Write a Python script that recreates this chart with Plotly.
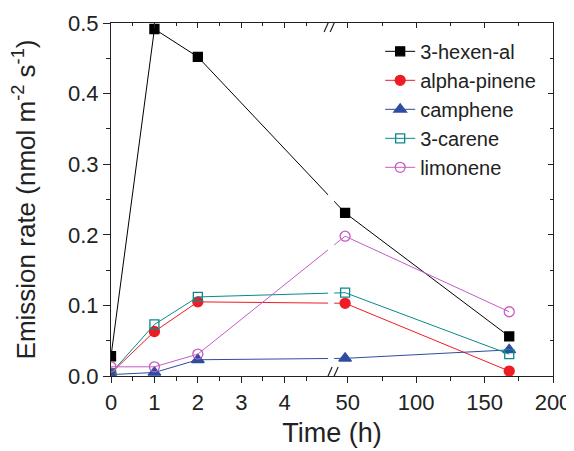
import plotly.graph_objects as go

# ---- data ----
time_h = [0, 1, 2, 48, 168]
hexenal = [0.028, 0.4915, 0.452, 0.231, 0.056]
alpha_pinene = [0.004, 0.063, 0.105, 0.103, 0.007]
camphene = [0.002, 0.005, 0.023, 0.025, 0.037]
carene = [0.004, 0.073, 0.112, 0.118, 0.031]
limonene = [0.013, 0.013, 0.031, 0.198, 0.091]

left_ticks = [0, 1, 2, 3, 4]
left_minor = [0.5, 1.5, 2.5, 3.5, 4.5]
right_ticks = [50, 100, 150, 200]
right_minor = [75, 125, 175]
y_ticks = [0.0, 0.1, 0.2, 0.3, 0.4, 0.5]

# ---- broken-axis transform ----
LEFT_MAX = 5.0
GAP = 0.14
RIGHT_MIN = 40
K = 0.0315


def u(t):
    return t if t <= LEFT_MAX else LEFT_MAX + GAP + (t - RIGHT_MIN) * K


U_MAX = u(200)
xs = [u(t) for t in time_h]

series = [
    ("3-hexen-al", hexenal, "#000000", "square", 9),
    ("alpha-pinene", alpha_pinene, "#ee1c25", "circle", 10),
    ("camphene", camphene, "#2e4da0", "triangle-up", 11),
    ("3-carene", carene, "#0a8a8a", "square-open", 9),
    ("limonene", limonene, "#c45cc4", "circle-open", 10),
]

fig = go.Figure()
for name, vals, col, sym, sz in series:
    fig.add_trace(go.Scatter(
        x=xs, y=vals, name=name, mode="lines+markers",
        line=dict(color=col, width=1),
        marker=dict(symbol=sym, size=sz, color=col,
                    line=dict(color=col, width=1.3)),
        cliponaxis=True,
    ))

# dummy trace for mirrored axes
fig.add_trace(go.Scatter(x=[None], y=[None], xaxis="x2", yaxis="y2",
                         showlegend=False, hoverinfo="skip"))

tickvals = [u(t) for t in left_ticks] + [u(t) for t in right_ticks]
ticktext = [str(t) for t in left_ticks] + [str(t) for t in right_ticks]
minorvals = [u(t) for t in left_minor] + [u(t) for t in right_minor]

FONT = "Liberation Sans, Arial, sans-serif"

# page body adds an 8px margin, so the figure is 8px smaller
fig.update_layout(
    width=566, height=443,
    margin=dict(l=103, r=21, t=15, b=75),
    paper_bgcolor="white", plot_bgcolor="white",
    font=dict(family=FONT, color="#222222"),
    showlegend=True,
    legend=dict(x=0.609, y=0.975, xanchor="left", yanchor="top",
                font=dict(size=20, family=FONT, color="#222222"),
                bgcolor="rgba(0,0,0,0)", tracegroupgap=0,
                itemsizing="trace"),
    xaxis=dict(
        range=[0, U_MAX], tickmode="array", tickvals=tickvals, ticktext=ticktext,
        ticks="outside", ticklen=6, tickwidth=1, tickcolor="#222",
        showline=True, linecolor="#222", linewidth=1.2,
        showgrid=False, zeroline=False, automargin=False,
        tickfont=dict(size=22),
        minor=dict(tickmode="array", tickvals=minorvals, ticks="outside",
                   ticklen=4, tickcolor="#222"),
        title=dict(text="Time (h)", font=dict(size=27), standoff=9),
    ),
    yaxis=dict(
        range=[0, 0.5], tickmode="array", tickvals=y_ticks,
        ticktext=[f"{v:.1f}" for v in y_ticks],
        ticks="outside", ticklen=7, tickwidth=1, tickcolor="#222",
        showline=True, linecolor="#222", linewidth=1.2,
        showgrid=False, zeroline=False, automargin=False,
        tickfont=dict(size=22),
        minor=dict(dtick=0.05, tick0=0, ticks="outside", ticklen=4, tickcolor="#222"),
        title=dict(text="Emission rate (nmol m<sup>-2</sup> s<sup>-1</sup>)",
                   font=dict(size=26), standoff=30),
    ),
    xaxis2=dict(
        overlaying="x", side="top", anchor="y2", range=[0, U_MAX],
        tickmode="array", tickvals=tickvals, showticklabels=False,
        ticks="inside", ticklen=5, tickcolor="#222", automargin=False,
        showline=True, linecolor="#222", linewidth=1.2,
        showgrid=False, zeroline=False,
        minor=dict(tickmode="array", tickvals=minorvals, ticks="inside",
                   ticklen=3, tickcolor="#222"),
    ),
    yaxis2=dict(
        overlaying="y", side="right", anchor="x2", range=[0, 0.5],
        tickmode="array", tickvals=y_ticks, showticklabels=False,
        ticks="inside", ticklen=5, tickcolor="#222", automargin=False,
        showline=True, linecolor="#222", linewidth=1.2,
        showgrid=False, zeroline=False,
        minor=dict(dtick=0.05, tick0=0, ticks="inside", ticklen=3, tickcolor="#222"),
    ),
)

# break gap (white band) and slash marks
px_u = 1 / 43.4
px_y = 0.5 / 353
fig.add_shape(type="rect", xref="x", yref="y", layer="above",
              x0=LEFT_MAX, x1=LEFT_MAX + GAP, y0=-12 * px_y, y1=0.5 + 12 * px_y,
              fillcolor="white", line=dict(width=0))
for yc in (0.0, 0.5):
    for xc in (LEFT_MAX, LEFT_MAX + GAP):
        fig.add_shape(type="line", xref="x", yref="y", layer="above",
                      x0=xc - 4 * px_u, y0=yc - 9 * px_y,
                      x1=xc + 4 * px_u, y1=yc + 9 * px_y,
                      line=dict(color="#222", width=1.2))

fig.write_html("out.html")
